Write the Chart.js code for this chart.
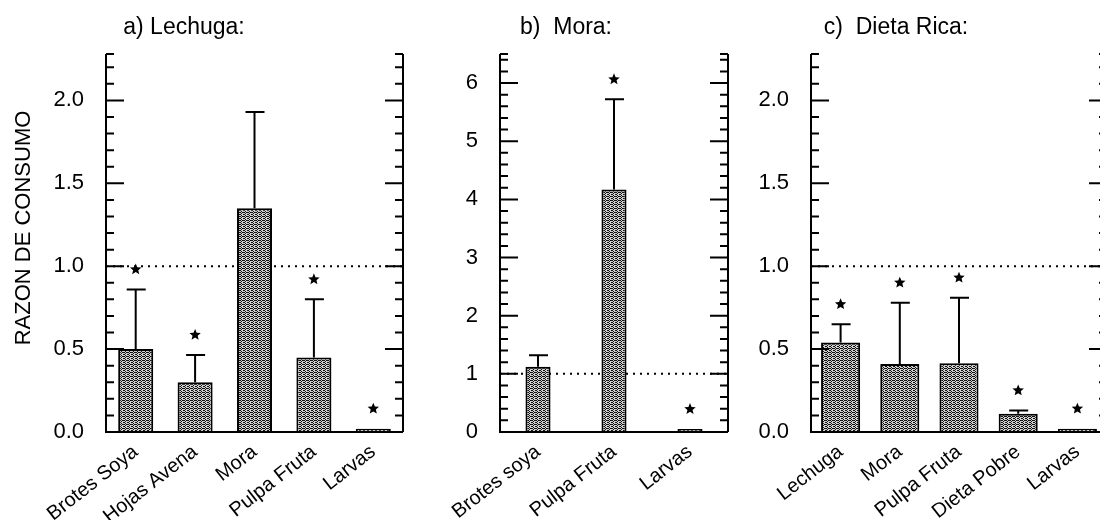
<!DOCTYPE html>
<html>
<head>
<meta charset="utf-8">
<script src="https://cdn.jsdelivr.net/npm/chart.js@4"></script>
<style>
body{margin:0;background:#fff;overflow:hidden;width:1100px;height:520px;position:relative}
canvas{position:absolute;top:0}
</style>
</head>
<body>
<canvas id="chart-a" width="420" height="520" style="left:0"></canvas>
<canvas id="chart-b" width="330" height="520" style="left:420px"></canvas>
<canvas id="chart-c" width="380" height="520" style="left:750px"></canvas>
<script>
// a) Lechuga
var lechugaLabels = ['Brotes Soya', 'Hojas Avena', 'Mora', 'Pulpa Fruta', 'Larvas'];
var lechugaMeans = [0.50, 0.30, 1.35, 0.45, 0.02];
var lechugaErrors = [0.36, 0.165, 0.58, 0.35, 0];
var lechugaSig = [true, true, false, true, true];
var lechugaTicks = [0, 0.5, 1.0, 1.5, 2.0];

// b) Mora
var moraLabels = ['Brotes soya', 'Pulpa Fruta', 'Larvas'];
var moraMeans = [1.12, 4.17, 0.05];
var moraErrors = [0.20, 1.55, 0];
var moraSig = [false, true, true];
var moraTicks = [0, 1, 2, 3, 4, 5, 6];

// c) Dieta Rica
var ricaLabels = ['Lechuga', 'Mora', 'Pulpa Fruta', 'Dieta Pobre', 'Larvas'];
var ricaMeans = [0.54, 0.41, 0.415, 0.11, 0.02];
var ricaErrors = [0.11, 0.37, 0.395, 0.02, 0];
var ricaSig = [true, true, true, true, true];
var ricaTicks = [0, 0.5, 1.0, 1.5, 2.0];

var FONT = "'Liberation Sans', Arial, sans-serif";
Chart.defaults.font.family = FONT;
Chart.defaults.color = '#000';

function stipple(){
    var c = document.createElement('canvas');
    c.width = 4; c.height = 4;
    var g = c.getContext('2d');
    g.fillStyle = '#d0d0d0';
    g.fillRect(0, 0, 4, 4);
    g.fillStyle = '#111';
    var dots = [[0,0],[2,0],[1,1],[3,2],[0,2],[1,3],[3,0]];
    for (var i in dots){ g.fillRect(dots[i][0], dots[i][1], 1, 1) }
    return g.createPattern(c, 'repeat');
}

function drawStar(ctx, x, y, r){
    ctx.beginPath();
    for (var k = 0; k < 10; k++){
        var rad = k % 2 ? r * 0.45 : r;
        var a = -Math.PI / 2 + k * Math.PI / 5;
        var px = x + rad * Math.cos(a), py = y + rad * Math.sin(a);
        if (k == 0) ctx.moveTo(px, py); else ctx.lineTo(px, py);
    }
    ctx.closePath();
    ctx.fill();
}

var panelPlugin = {
    id: 'panel',
    beforeDatasetsDraw: function(chart, args, opts){
        var ctx = chart.ctx, area = chart.chartArea;
        var y1 = chart.scales.y.getPixelForValue(1);
        ctx.save();
        ctx.strokeStyle = '#000';
        ctx.lineWidth = 2;
        ctx.setLineDash([2, 5]);
        ctx.beginPath();
        ctx.moveTo(area.left, y1);
        ctx.lineTo(area.right, y1);
        ctx.stroke();
        ctx.restore();
    },
    afterDatasetsDraw: function(chart, args, opts){
        var ctx = chart.ctx, area = chart.chartArea, ys = chart.scales.y;
        var means = chart.data.datasets[0].data;
        ctx.save();
        ctx.strokeStyle = '#000';
        ctx.fillStyle = '#000';
        ctx.lineWidth = 2;

        // error bars and significance stars
        chart.getDatasetMeta(0).data.forEach(function(bar, i){
            var top = ys.getPixelForValue(means[i] + opts.errors[i]);
            if (opts.errors[i] > 0){
                ctx.beginPath();
                ctx.moveTo(bar.x, bar.y);
                ctx.lineTo(bar.x, top);
                ctx.moveTo(bar.x - 9, top);
                ctx.lineTo(bar.x + 10, top);
                ctx.stroke();
            }
            if (opts.sig[i]) drawStar(ctx, bar.x, top - 20, 6);
        });

        // axis frame: left, right, bottom
        ctx.beginPath();
        ctx.moveTo(area.left, area.top);
        ctx.lineTo(area.left, area.bottom);
        ctx.lineTo(area.right, area.bottom);
        ctx.moveTo(area.right, area.top);
        ctx.lineTo(area.right, area.bottom);
        ctx.stroke();

        // inward ticks on both sides
        var max = ys.max, n = Math.floor(max / opts.minorStep + 1e-6);
        var levels = [];
        for (var k = 0; k <= n; k++) levels.push(k * opts.minorStep);
        levels.push(max);
        ctx.beginPath();
        levels.forEach(function(v){
            var major = opts.majors.some(function(m){ return Math.abs(m - v) < 1e-6 });
            var len = major ? 18 : 8;
            var py = ys.getPixelForValue(v);
            ctx.moveTo(area.left, py);
            ctx.lineTo(area.left + len, py);
            ctx.moveTo(area.right, py);
            ctx.lineTo(area.right - len, py);
        });
        ctx.stroke();

        // panel title
        ctx.font = '23px ' + FONT;
        ctx.textAlign = 'center';
        ctx.textBaseline = 'middle';
        ctx.fillText(opts.title, opts.titleX, 28);

        if (opts.yTitle){
            ctx.translate(24, 228);
            ctx.rotate(-Math.PI / 2);
            ctx.font = '22px ' + FONT;
            ctx.fillText(opts.yTitle, 0, 0);
        }
        ctx.restore();
    }
};

function createPanel(id, labels, means, errors, sig, ticks, yMax, minorStep, decimals, barPct, yWidth, padRight, title, titleX, yTitle){
    var ctx = document.getElementById(id);
    return new Chart(ctx, {
        type: 'bar',
        data: {
            labels: labels,
            datasets: [{
                data: means,
                backgroundColor: stipple(),
                borderColor: '#000',
                borderWidth: 2,
                categoryPercentage: 1,
                barPercentage: barPct
            }]
        },
        options: {
            responsive: false,
            animation: false,
            layout: { padding: { top: 54, right: padRight, left: 0, bottom: 0 } },
            plugins: {
                legend: { display: false },
                tooltip: { enabled: false },
                panel: {
                    errors: errors, sig: sig, majors: ticks, minorStep: minorStep,
                    title: title, titleX: titleX, yTitle: yTitle
                }
            },
            scales: {
                x: {
                    grid: { display: false },
                    border: { display: false },
                    ticks: { autoSkip: false, minRotation: 38, maxRotation: 38, padding: 0, font: { size: 20 } },
                    afterFit: function(s){ s.height = 88 }
                },
                y: {
                    min: 0,
                    max: yMax,
                    grid: { display: false },
                    border: { display: false },
                    ticks: {
                        padding: 14,
                        font: { size: 22 },
                        callback: function(v){ return v.toFixed(decimals) }
                    },
                    afterBuildTicks: function(s){ s.ticks = ticks.map(function(v){ return { value: v } }) },
                    afterFit: function(s){ s.width = yWidth }
                }
            }
        },
        plugins: [panelPlugin]
    });
}

createPanel('chart-a', lechugaLabels, lechugaMeans, lechugaErrors, lechugaSig, lechugaTicks,
    2.28, 0.1, 1, 0.59, 106, 17, 'a) Lechuga:', 184, 'RAZON DE CONSUMO');
createPanel('chart-b', moraLabels, moraMeans, moraErrors, moraSig, moraTicks,
    6.5, 0.2, 0, 0.33, 80, 22, 'b)  Mora:', 146, null);
createPanel('chart-c', ricaLabels, ricaMeans, ricaErrors, ricaSig, ricaTicks,
    2.28, 0.1, 1, 0.66, 61, 23, 'c)  Dieta Rica:', 146, null);
</script>
</body>
</html>
